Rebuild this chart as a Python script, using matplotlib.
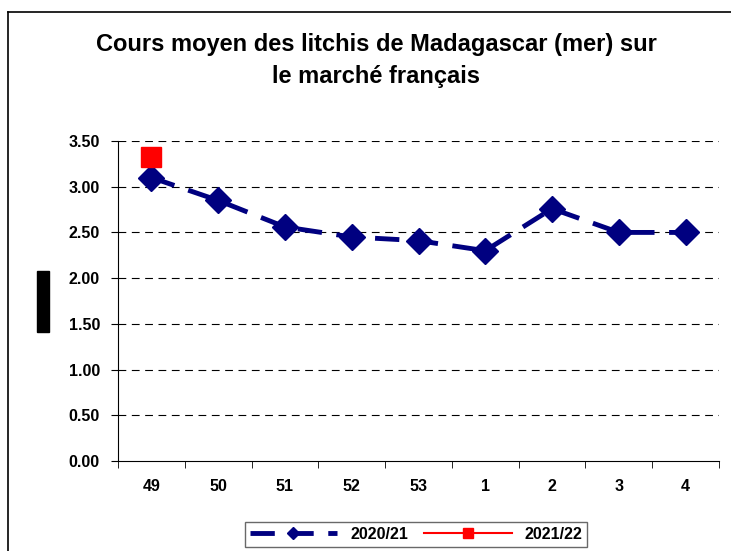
import matplotlib.pyplot as plt
from matplotlib.patches import Rectangle
from matplotlib.lines import Line2D

plt.rcParams['font.family'] = ['Liberation Sans', 'DejaVu Sans']

# weeks (categories) and prices
weeks = ["49", "50", "51", "52", "53", "1", "2", "3", "4"]
prix_2020 = [3.10, 2.85, 2.56, 2.45, 2.41, 2.30, 2.76, 2.50, 2.50]
prix_2021 = [3.32]
yticks = [0.0, 0.5, 1.0, 1.5, 2.0, 2.5, 3.0, 3.5]

navy = '#000080'
red = '#ff0000'

fig = plt.figure(figsize=(7.31, 5.51), dpi=100)
ax = fig.add_axes([118/731, 1-461/551, (719-118)/731, (461-141)/551])

x = list(range(len(weeks)))
ax.plot(x, prix_2020, color=navy, lw=3.5, linestyle=(0, (5, 3)),
        marker='D', markersize=13, markerfacecolor=navy, markeredgecolor=navy,
        label='2020/21', zorder=3)
ax.plot(x[:len(prix_2021)], prix_2021, color=red, lw=1.5, marker='s',
        markersize=15, markerfacecolor=red, markeredgecolor=red,
        label='2021/22', zorder=4)

ax.set_xlim(-0.5, len(weeks) - 0.5)
ax.set_ylim(0, 3.5)
ax.set_yticks(yticks)
ax.set_yticklabels([f"{v:.2f}" for v in yticks], fontsize=11.5, fontweight='bold')
ax.set_xticks(x)
ax.set_xticklabels(weeks, fontsize=11.5, fontweight='bold')
ax.set_xticks([i - 0.5 for i in range(len(weeks) + 1)], minor=True)
ax.tick_params(axis='x', which='major', length=0, pad=13)
ax.tick_params(axis='x', which='minor', length=5, direction='out')
ax.tick_params(axis='y', length=5, direction='out', pad=8)

for v in yticks[1:]:
    ax.axhline(v, color='black', lw=0.8, linestyle=(0, (7, 5)), zorder=1)

ax.spines['top'].set_visible(False)
ax.spines['right'].set_visible(False)

# title
fig.text(376/731, 1-45/551, "Cours moyen des litchis de Madagascar (mer) sur",
         ha='center', va='center', fontsize=17, fontweight='bold')
fig.text(376/731, 1-76/551, "le marché français",
         ha='center', va='center', fontsize=17, fontweight='bold')

# outer frame (left and top edges)
fig.add_artist(Line2D([8/731, 8/731], [0, 1-12/551], color='black', lw=1.2,
                      transform=fig.transFigure))
fig.add_artist(Line2D([8/731, 1], [1-12/551, 1-12/551], color='black', lw=1.2,
                      transform=fig.transFigure))

# hidden y label block
fig.add_artist(Rectangle((37/731, 1-332/551), 12/731, 61/551,
                         color='black', transform=fig.transFigure))

leg = fig.legend(loc='upper center', bbox_to_anchor=(416/731, 1-514/551),
                 ncol=2, prop={'weight': 'bold', 'size': 11.5},
                 frameon=True, fancybox=False, edgecolor='#444444',
                 handlelength=5.5, markerscale=0.5, borderpad=0.3,
                 columnspacing=1.0)
leg.get_frame().set_linewidth(1.0)

fig.savefig('out.png', dpi=100)
